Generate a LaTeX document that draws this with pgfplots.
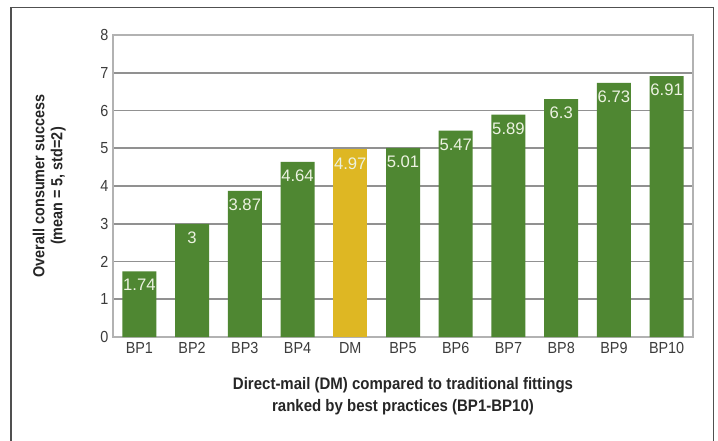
\documentclass[border=0pt]{standalone}
\usepackage{pgfplots}
\pgfplotsset{compat=1.18}
\usepackage{fontspec}
\setmainfont{Liberation Sans}[FakeStretch=0.9]
\newfontfamily\valfont{Liberation Sans}
\definecolor{barGreen}{RGB}{79,135,50}
\definecolor{barGold}{RGB}{222,183,35}
\definecolor{gridGray}{RGB}{145,145,145}
\definecolor{tickText}{RGB}{60,60,60}
\definecolor{frameGray}{RGB}{80,80,80}
\definecolor{valText}{RGB}{236,242,225}

% success scores, best practices in rank order with direct-mail in the middle
\pgfplotstableread{
x y
0 1.74
1 3
2 3.87
3 4.64
5 5.01
6 5.47
7 5.89
8 6.3
9 6.73
10 6.91
}\bestpractices
\pgfplotstableread{
x y
4 4.97
}\directmail

\begin{document}
\begin{tikzpicture}[x=0.75pt,y=0.75pt]
\useasboundingbox (0,0) rectangle (718,440);
\clip (0,0) rectangle (718,440);
\fill[white] (0,0) rectangle (718,440);
\draw[line width=1.1pt, frameGray] (11,-10) rectangle (713.5,432.5);
\begin{axis}[
  at={(84.75pt,77.25pt)}, anchor=south west,
  scale only axis, width=435pt, height=226.5pt,
  xmin=-0.5, xmax=10.5, ymin=0, ymax=8,
  xtick={0,...,10},
  xticklabels={BP1,BP2,BP3,BP4,DM,BP5,BP6,BP7,BP8,BP9,BP10},
  ytick={0,...,8},
  ymajorgrids,
  grid style={gridGray, line width=1.4pt},
  axis line style={gray!60, line width=1pt},
  major tick length=0pt,
  /pgf/number format/assume math mode=true,
  tick label style={font=\fontsize{12}{14}\selectfont, text=tickText},
  xticklabel style={yshift=-0.5pt},
  yticklabel style={xshift=0pt},
  ylabel={Overall consumer success\\(mean = 5, std=2)},
  ylabel style={at={(axis description cs:-0.110,0.5)}, anchor=center,
    align=center, font=\bfseries\fontsize{12}{13.5}\selectfont, text=black!85},
  xlabel={Direct-mail (DM) compared to traditional fittings\\ranked by best practices (BP1-BP10)},
  xlabel style={at={(axis description cs:0.5,-0.195)}, anchor=center,
    align=center, font=\bfseries\fontsize{12.5}{16.5}\selectfont, text=black!85},
  ybar, bar width=25.5pt, bar shift=0pt,
  nodes near coords,
  every node near coord/.append style={anchor=north, yshift=-2.5pt,
    text=valText, font=\valfont\fontsize{12.5}{14}\selectfont},
]
\addplot[fill=barGreen, draw=none] table[x=x, y=y] {\bestpractices};
\addplot[fill=barGold, draw=none] table[x=x, y=y] {\directmail};
\end{axis}
\end{tikzpicture}
\end{document}
